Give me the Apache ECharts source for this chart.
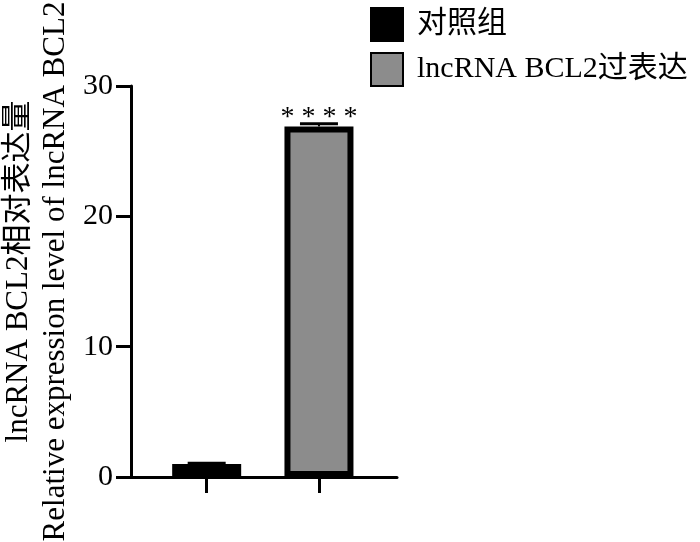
<!DOCTYPE html>
<html>
<head>
<meta charset="utf-8">
<script src="https://cdn.jsdelivr.net/npm/echarts@6/dist/echarts.min.js"></script>
<style>html,body{margin:0;padding:0;background:#fff;}#c{width:700px;height:542px;}</style>
</head>
<body>
<div id="c"></div>
<script>
// Data
var groups = ['对照组', 'lncRNA BCL2过表达'];
var groupPos = [1, 2];
var means = [1.0, 26.9];
var errors = [0.05, 0.2];
var sigLabels = ['', '* * * *'];
var yTicks = [0, 10, 20, 30];
var yTitle = ['lncRNA BCL2相对表达量', 'Relative expression level of lncRNA BCL2'];

var FONT = '"Liberation Serif", "Times New Roman", "Noto Sans CJK SC", serif';
var fills = ['#000000', '#8c8c8c'];

var chart = echarts.init(document.getElementById('c'));

var barSeries = groups.map(function (g, i) {
  return {
    name: g,
    type: 'bar',
    barWidth: 69,
    barGap: '-100%',
    data: [[groupPos[i], means[i]]],
    itemStyle: { color: fills[i], borderColor: '#000', borderWidth: 6 },
    label: {
      show: sigLabels[i] !== '',
      position: 'top',
      distance: -5,
      formatter: function () { return sigLabels[i]; },
      fontFamily: FONT,
      fontSize: 28,
      color: '#000'
    },
    z: 2
  };
});

var errData = groups.map(function (g, i) { return [groupPos[i], means[i], errors[i]]; });

var errSeries = {
  type: 'custom',
  name: 'err',
  data: errData,
  z: 5,
  silent: true,
  renderItem: function (params, api) {
    var x = api.value(0), m = api.value(1), e = api.value(2);
    var top = api.coord([x, m + e]);
    var base = api.coord([x, m]);
    var half = 19;
    return {
      type: 'group',
      children: [
        { type: 'line', shape: { x1: top[0], y1: top[1], x2: base[0], y2: base[1] }, style: { stroke: '#000', lineWidth: 2 } },
        { type: 'line', shape: { x1: top[0] - half, y1: top[1], x2: top[0] + half, y2: top[1] }, style: { stroke: '#000', lineWidth: 3 } }
      ]
    };
  }
};

chart.setOption({
  animation: false,
  backgroundColor: '#fff',
  legend: {
    data: groups,
    orient: 'vertical',
    left: 365,
    top: 2,
    itemWidth: 32,
    itemHeight: 33,
    itemGap: 10,
    icon: 'rect',
    textStyle: { fontFamily: FONT, fontSize: 30, color: '#000', padding: [0, 0, 0, 9] },
    selectedMode: false
  },
  grid: { left: 131, top: 86, width: 266, bottom: 65, containLabel: false, outerBoundsMode: 'none' },
  xAxis: {
    type: 'value',
    min: 0.326,
    max: 2.695,
    splitLine: { show: false },
    axisLine: { show: true, onZero: false, lineStyle: { color: '#000', width: 3 } },
    axisTick: { show: true, customValues: groupPos, length: 16, lineStyle: { color: '#000', width: 3 } },
    axisLabel: { show: false }
  },
  yAxis: {
    type: 'value',
    min: 0,
    max: 30,
    interval: 10,
    splitLine: { show: false },
    axisLine: { show: true, lineStyle: { color: '#000', width: 3 } },
    axisTick: { show: true, length: 15, lineStyle: { color: '#000', width: 3 } },
    axisLabel: {
      fontFamily: FONT, fontSize: 30, color: '#000', margin: 18,
      customValues: yTicks
    },
    name: yTitle.join('\n'),
    nameLocation: 'middle',
    nameGap: 57,
    nameRotate: 90,
    nameTextStyle: { fontFamily: FONT, fontSize: 31, color: '#000', lineHeight: 37, padding: [0, 0, 0, 20] }
  },
  series: barSeries.concat([errSeries])
});
</script>
</body>
</html>
